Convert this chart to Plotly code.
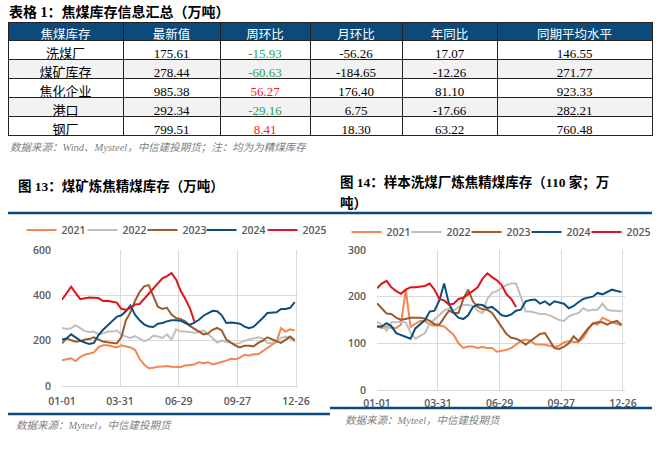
import plotly.graph_objects as go

W, H = 660, 453

# ---------------- table data ----------------
tbl_headers = ["焦煤库存", "最新值", "周环比", "月环比", "年同比", "同期平均水平"]
tbl_rows = ["洗煤厂", "煤矿库存", "焦化企业", "港口", "钢厂"]
latest = [175.61, 278.44, 985.38, 292.34, 799.51]
wow = [-15.93, -60.63, 56.27, -29.16, 8.41]
mom = [-56.26, -184.65, 176.40, 6.75, 18.30]
yoy = [17.07, -12.26, 81.10, -17.66, 63.22]
avg_same = [146.55, 271.77, 923.33, 282.21, 760.48]

# ---------------- chart data (weekly) ----------------
years = ["2021", "2022", "2023", "2024", "2025"]
tick_days = [0, 89, 179, 269, 359]
tick_labels = ["01-01", "03-31", "06-29", "09-27", "12-26"]

mine = {
    "2021": [114, 118, 122, 110, 128, 138, 142, 148, 172, 180, 180, 175, 170, 180, 176, 170, 160, 120, 95, 78,
             80, 85, 86, 88, 85, 83, 84, 90, 92, 95, 105, 100, 105, 95, 100, 105, 112, 120, 118, 125,
             138, 135, 140, 140, 155, 168, 182, 195, 255, 240, 250, 245],
    "2022": [256, 252, 255, 268, 255, 242, 238, 240, 228, 232, 240, 240, 245, 228, 218, 212, 220, 210, 198, 205,
             222, 218, 212, 228, 205, 250, 240, 240, 238, 235, 238, 245, 230, 210, 192, 200, 195, 190, 185, 190,
             200, 205, 210, 215, 210, 190, 190, 200, 212, 218, 210, 195],
    "2023": [188, 210, 202, 195, 198, 205, 207, 215, 205, 196, 193, 192, 188, 215, 290, 325, 375, 415, 440, 445,
             400, 350, 340, 345, 315, 300, 295, 285, 265, 252, 240, 228, 232, 248, 256, 245, 205, 190, 178, 170,
             178, 178, 175, 190, 200, 215, 208, 198, 190, 205, 218, 202],
    "2024": [205, 210, 228, 212, 200, 192, 185, 190, 225, 248, 268, 285, 305, 312, 330, 355, 315, 290, 272, 262,
             260, 275, 278, 285, 290, 290, 288, 278, 270, 280, 292, 310, 322, 332, 330, 312, 278, 280, 278, 275,
             262, 255, 262, 280, 300, 322, 325, 325, 340, 340, 345, 370],
    "2025": [381, 410, 438, 410, 383, 387, 390, 389, 388, 375, 376, 372, 368, 340, 336, 345, 360, 362, 385, 405,
             430, 455, 475, 485, 498, 470, 420, 385, 345, 285],
}

washery = {
    "2021": [136, 133, 136, 133, 133, 140, 215, 135, 142, 148, 148, 140, 138, 138, 136, 128, 118, 100, 90, 93,
             93, 90, 92, 90, 90, 82, 84, 86, 90, 97, 105, 108, 106, 98, 98, 97, 95, 92, 95, 102,
             105, 103, 103, 112, 128, 143, 140, 155, 150, 145, 142, 138],
    "2022": [146, 140, 127, 145, 145, 146, 145, 122, 110, 116, 122, 142, 152, 162, 170, 175, 170, 178, 182, 182,
             180, 170, 165, 195, 208, 212, 218, 225, 228, 228, 200, 168, 168, 165, 163, 163, 160, 155, 150, 148,
             158, 162, 165, 175, 170, 172, 172, 185, 172, 170, 170, 168],
    "2023": [186, 175, 164, 163, 155, 150, 153, 155, 155, 155, 153, 148, 141, 140, 155, 170, 165, 165, 195, 215,
             190, 178, 173, 172, 165, 150, 135, 120, 112, 110, 105, 97, 105, 112, 120, 122, 105, 90, 88, 93,
             100, 115, 105, 118, 132, 142, 145, 145, 140, 145, 148, 140],
    "2024": [136, 136, 143, 137, 122, 118, 113, 110, 132, 140, 150, 168, 170, 192, 228, 185, 165, 155, 152, 160,
             178, 183, 182, 176, 178, 170, 160, 158, 162, 170, 172, 190, 193, 194, 185, 190, 182, 190, 188, 185,
             175, 180, 188, 195, 198, 200, 208, 205, 210, 215, 212, 210],
    "2025": [218, 228, 234, 220, 212, 206, 215, 220, 220, 222, 223, 228, 215, 195, 192, 183, 185, 195, 198, 205,
             212, 220, 238, 250, 242, 235, 225, 205, 195, 178],
}

colors = {"2021": "#f4864f", "2022": "#bfbfbf", "2023": "#9c5b2e", "2024": "#0b4f82", "2025": "#e0141e"}

CJK = "Noto Sans CJK SC"
SERIF = "Liberation Serif, Noto Sans CJK SC"
SANS = "Open Sans, Noto Sans CJK SC"
BLUE = "#0b4a7a"


def px_x(p):
    return p / W


def px_y(p):
    return 1 - p / H


fig = go.Figure()

# ---------------- table ----------------
def fmt(vals):
    return [f"{v:.2f}" for v in vals]


def sign_colors(vals):
    return ["#2ca24f" if v < 0 else "#ff1a1a" for v in vals]


row_fill = ["#ffffff" if i % 2 == 0 else "#f2f2f2" for i in range(len(tbl_rows))]
cell_font_colors = ["#000000", "#000000", sign_colors(wow), "#000000", "#000000", "#000000"]

fig.add_trace(go.Table(
    domain=dict(x=[px_x(8), px_x(652)], y=[px_y(138), px_y(22)]),
    columnwidth=[115, 97, 90, 92, 95, 155],
    header=dict(values=tbl_headers, fill_color=BLUE, align="center", height=18,
                line=dict(color="#222222", width=1),
                font=dict(color="white", size=12.5, family=CJK)),
    cells=dict(values=[tbl_rows, fmt(latest), fmt(wow), fmt(mom), fmt(yoy), fmt(avg_same)],
               fill_color=[row_fill] * 6, align="center", height=19,
               line=dict(color="#222222", width=1),
               font=dict(color=cell_font_colors, size=13, family=SERIF)),
))

# ---------------- line charts (one legend per entry, placed like the reference) ----------------
legend_x13 = [21.5, 82.5, 142.5, 201.5, 262.5]
legend_x14 = [346.5, 406.5, 466.5, 526.5, 586.5]
legend_layout = {}
legend_font = dict(family=SANS, size=10.5, color="#595959", weight=600)


def legend_box(x, y):
    return dict(x=px_x(x), y=px_y(y), xanchor="left", yanchor="middle", orientation="h",
                font=legend_font, bgcolor="rgba(0,0,0,0)", borderwidth=0, itemclick=False,
                itemdoubleclick=False)


n = 1
for i, y in enumerate(years):
    vals = mine[y]
    lname = "legend" if n == 1 else f"legend{n}"
    legend_layout[lname] = legend_box(legend_x13[i], 230)
    fig.add_trace(go.Scatter(x=[7 * k for k in range(len(vals))], y=vals, mode="lines", name=y,
                             line=dict(color=colors[y], width=2), xaxis="x", yaxis="y", legend=lname))
    n += 1
for i, y in enumerate(years):
    vals = washery[y]
    lname = f"legend{n}"
    legend_layout[lname] = legend_box(legend_x14[i], 232)
    fig.add_trace(go.Scatter(x=[7 * k for k in range(len(vals))], y=vals, mode="lines", name=y,
                             line=dict(color=colors[y], width=2), xaxis="x2", yaxis="y2", legend=lname))
    n += 1

tickfont = dict(family=SANS, size=10.5, color="#595959", weight=600)
xcommon = dict(tickvals=tick_days, ticktext=tick_labels, range=[0, 362], showgrid=True,
               gridcolor="#d9d9d9", gridwidth=1, zeroline=False, showline=True, linecolor="#d9d9d9",
               ticks="", tickfont=tickfont, fixedrange=True)
ycommon = dict(showgrid=True, gridcolor="#d9d9d9", gridwidth=1, zeroline=False, showline=False,
               ticks="", tickfont=tickfont, ticklabelstandoff=10, fixedrange=True)

fig.update_layout(
    width=W, height=H, autosize=False,
    margin=dict(l=0, r=0, t=0, b=0, autoexpand=False),
    paper_bgcolor="white", plot_bgcolor="white",
    xaxis=dict(domain=[px_x(62), px_x(298)], anchor="y", ticklabelstandoff=5, **xcommon),
    yaxis=dict(domain=[px_y(386), px_y(250)], anchor="x", range=[0, 600], dtick=200, **ycommon),
    xaxis2=dict(domain=[px_x(377), px_x(625)], anchor="y2", ticklabelstandoff=3, **xcommon),
    yaxis2=dict(domain=[px_y(390), px_y(250)], anchor="x2", range=[0, 300], dtick=100, **ycommon),
    showlegend=True,
    hovermode=False,
    **legend_layout,
)

# rules
rules = [(8, 330, 213), (330, 652, 213), (8, 330, 414), (330, 652, 408)]
shapes = []
for x0, x1, yy in rules:
    shapes.append(dict(type="line", xref="paper", yref="paper", x0=px_x(x0), x1=px_x(x1),
                       y0=px_y(yy), y1=px_y(yy), line=dict(color=BLUE, width=2.5)))
fig.update_layout(shapes=shapes)

title_font = dict(family=SERIF, size=13.5, color="#000000", weight="bold")
table_title_font = dict(family=SERIF, size=14, color="#000000", weight="bold")
src_font = dict(family="Liberation Serif, Noto Sans CJK SC", size=10.5, color="#7f7f7f", style="italic")


def ann(text, x, y, font):
    fig.add_annotation(text=text, xref="paper", yref="paper", x=px_x(x), y=px_y(y),
                       xanchor="left", yanchor="middle", showarrow=False, font=font, align="left")


ann("表格 1：焦煤库存信息汇总（万吨）", 7, 12, table_title_font)
ann("数据来源：Wind、Mysteel，中信建投期货；注：均为为精煤库存", 8, 147, src_font)
ann("图 13：煤矿炼焦精煤库存（万吨）", 16, 186, title_font)
ann("图 14：样本洗煤厂炼焦精煤库存（110 家；万", 338, 182, title_font)
ann("吨）", 338, 203, title_font)
ann("数据来源：Myteel，中信建投期货", 14, 425, src_font)
ann("数据来源：Myteel，中信建投期货", 343, 420, src_font)

fig.write_html("out.html", config={"displayModeBar": False},
               post_script="document.body.style.margin='0';")
